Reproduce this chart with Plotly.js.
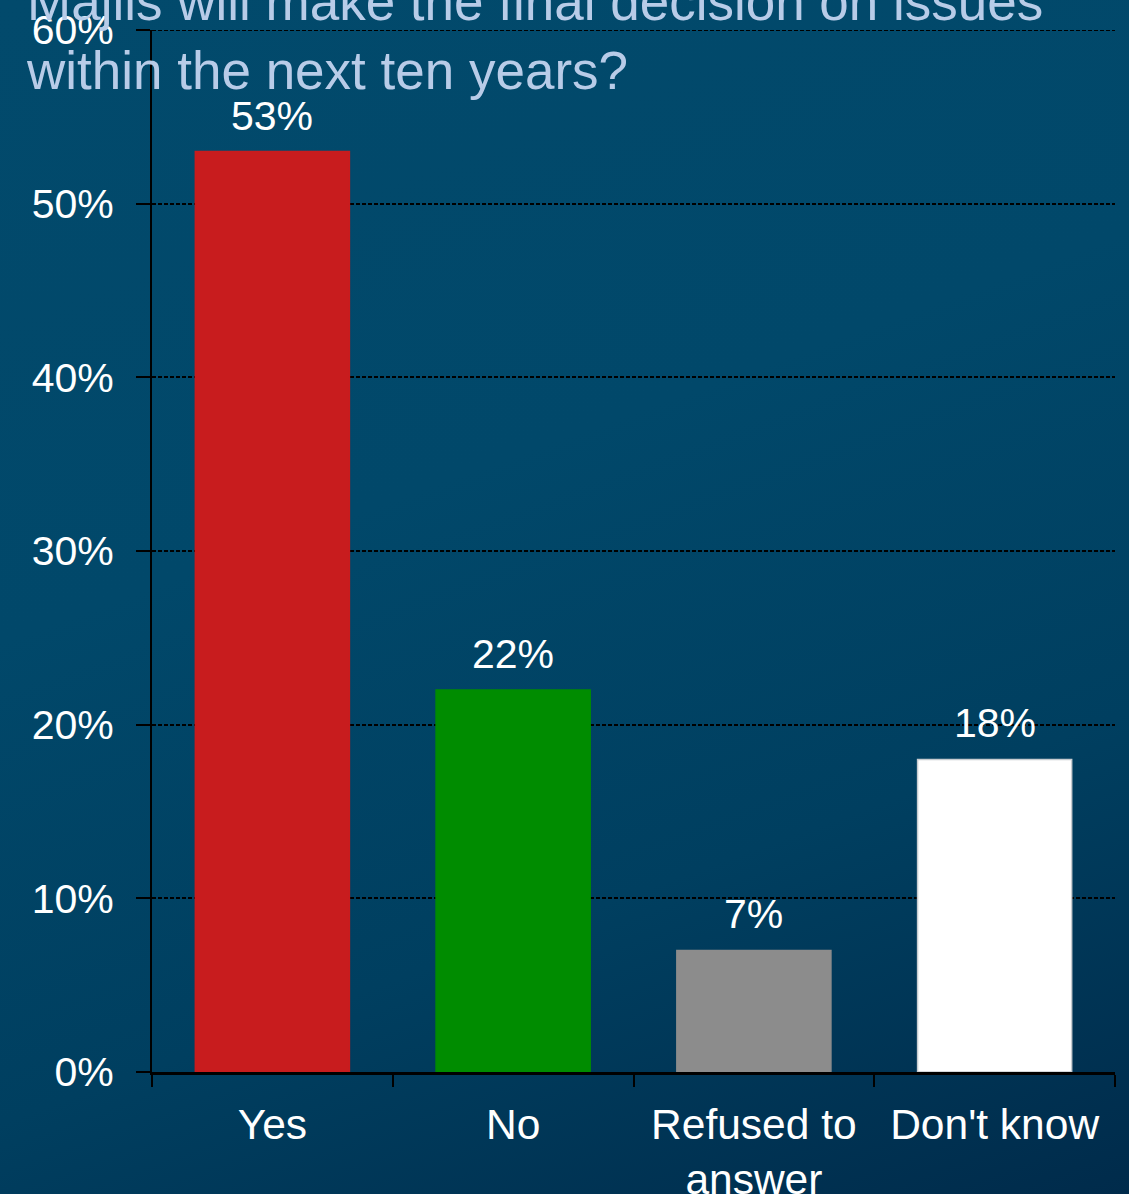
<!DOCTYPE html>
<html>
<head>
<meta charset="utf-8">
<script src="https://cdn.plot.ly/plotly-3.0.1.min.js"></script>
<style>
  html, body { margin: 0; padding: 0; }
  body {
    width: 1129px; height: 1194px; overflow: hidden;
    background: linear-gradient(160deg, #024a6c 0%, #01486a 40%, #003f60 70%, #002b4b 100%);
  }
  #chart { width: 1129px; height: 1194px; }
</style>
</head>
<body>
<div id="chart"></div>
<script>
const categories = ["Yes", "No", "Refused to<br>answer", "Don't know"];
const values = [53, 22, 7, 18];
const barColors = ["#c81c1e", "#008c00", "#8c8c8c", "#ffffff"];
const barLineColors = ["#c81c1e", "#008c00", "#8c8c8c", "#c8ccd0"];
const yTickValues = [0, 10, 20, 30, 40, 50, 60];
const yTickLabels = ["0%", "10%", "20%", "30%", "40%", "50%", "60%"];
const titleText = "Majlis will make the final decision on issues<br>within the next ten years?";

const font = "Liberation Sans, Arial, sans-serif";
const gridDash = "4px,2px";

const trace = {
  type: "bar",
  x: categories,
  y: values,
  width: 0.64,
  marker: { color: barColors, line: { color: barLineColors, width: 1.5 } },
  hoverinfo: "skip"
};

const labelAnnotations = categories.map((c, i) => ({
  x: c, y: values[i], xref: "x", yref: "y",
  text: values[i] + "%",
  showarrow: false,
  yanchor: "bottom",
  yshift: 11,
  font: { family: font, size: 41, color: "#ffffff" }
}));

const titleAnnotation = {
  xref: "paper", yref: "paper",
  x: (24 - 152) / 963, y: (1072 - 102) / 1042,
  xanchor: "left", yanchor: "bottom",
  align: "left",
  text: titleText,
  showarrow: false,
  font: { family: font, size: 53, color: "#b8cce8" }
};

const topGridLine = {
  type: "line", xref: "paper", yref: "y",
  x0: 0, x1: 1,
  y0: yTickValues[yTickValues.length - 1], y1: yTickValues[yTickValues.length - 1],
  line: { color: "#000000", width: 1.8, dash: gridDash },
  layer: "below"
};

const layout = {
  width: 1129, height: 1194,
  margin: { l: 152, r: 14, t: 30, b: 122, pad: 0 },
  paper_bgcolor: "rgba(0,0,0,0)",
  plot_bgcolor: "rgba(0,0,0,0)",
  showlegend: false,
  xaxis: {
    type: "category",
    showline: true, linecolor: "#000000", linewidth: 3,
    ticks: "outside", tickson: "boundaries", ticklen: 12, tickwidth: 2, tickcolor: "#000000",
    tickfont: { family: font, size: 42.5, color: "#ffffff" },
    ticklabelstandoff: 13,
    showgrid: false, zeroline: false,
    fixedrange: true
  },
  yaxis: {
    range: [0, 60],
    tickvals: yTickValues, ticktext: yTickLabels,
    showline: true, linecolor: "#000000", linewidth: 2,
    ticks: "outside", ticklen: 14, tickwidth: 2, tickcolor: "#000000",
    tickfont: { family: font, size: 41, color: "#ffffff" },
    ticklabelstandoff: 14,
    showgrid: true, gridcolor: "#000000", gridwidth: 1.8, griddash: gridDash,
    zeroline: false,
    fixedrange: true
  },
  shapes: [topGridLine],
  annotations: [titleAnnotation].concat(labelAnnotations)
};

Plotly.newPlot("chart", [trace], layout, { displayModeBar: false, staticPlot: true });
</script>
</body>
</html>
